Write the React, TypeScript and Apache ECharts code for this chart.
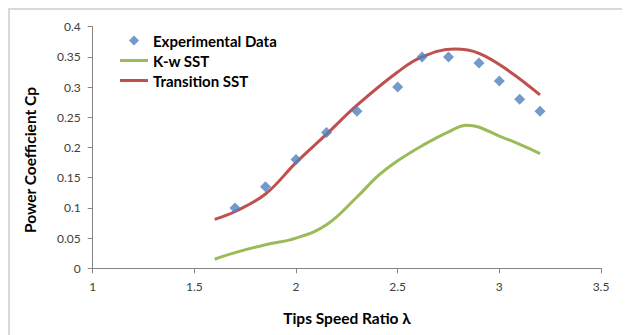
import React, { useEffect, useRef } from "react";
import * as echarts from "echarts";

const expX = [1.7, 1.85, 2.0, 2.15, 2.3, 2.5, 2.62, 2.75, 2.9, 3.0, 3.1, 3.2];
const expY = [0.1, 0.135, 0.18, 0.225, 0.26, 0.3, 0.35, 0.35, 0.34, 0.31, 0.28, 0.26];

const kwX = [1.6, 1.7, 1.85, 2.0, 2.15, 2.3, 2.4, 2.5, 2.62, 2.75, 2.84, 3.0, 3.2];
const kwY = [0.015, 0.026, 0.039, 0.05, 0.072, 0.118, 0.152, 0.178, 0.203, 0.226, 0.237, 0.219, 0.19];

const trX = [1.6, 1.7, 1.85, 2.0, 2.15, 2.3, 2.5, 2.62, 2.78, 2.9, 3.05, 3.2];
const trY = [0.081, 0.094, 0.123, 0.175, 0.222, 0.27, 0.325, 0.35, 0.363, 0.356, 0.326, 0.287];

const xTicks = { min: 1, max: 3.5, interval: 0.5 };
const yTicks = { min: 0, max: 0.4, interval: 0.05 };

const FONT = "Lato, 'Noto Sans', sans-serif";

export default function App() {
  const ref = useRef<HTMLDivElement>(null);
  useEffect(() => {
    if (!ref.current) return;
    const chart = echarts.init(ref.current, undefined, { renderer: "svg" });
    const zip = (xs: number[], ys: number[]) => xs.map((x, i) => [x, ys[i]]);
    chart.setOption({
      animation: false,
      textStyle: { fontFamily: FONT },
      grid: { left: 84.7, right: 29, top: 18.7, bottom: 66.7 },
      graphic: [
        {
          type: "rect",
          shape: { x: 1, y: 1, width: 2000, height: 2000 },
          style: { fill: "none", stroke: "#d9d9d9", lineWidth: 2 },
          silent: true,
        },
        {
          type: "text",
          x: 22,
          y: 152,
          rotation: Math.PI / 2,
          style: {
            text: "Power Coefficient Cp",
            fontFamily: FONT,
            fontSize: 15.5,
            fontWeight: "bold",
            fill: "#000",
            align: "center",
            verticalAlign: "middle",
          },
        },
        {
          type: "text",
          x: 339,
          y: 310,
          style: {
            text: "Tips Speed Ratio λ",
            fontFamily: FONT,
            fontSize: 15.5,
            fontWeight: "bold",
            fill: "#000",
            align: "center",
            verticalAlign: "middle",
          },
        },
      ],
      legend: {
        orient: "vertical",
        left: 107,
        top: 20,
        itemWidth: 28,
        itemHeight: 10,
        itemGap: 5,
        symbolKeepAspect: true,
        textStyle: { fontFamily: FONT, fontSize: 15, fontWeight: "bold", color: "#000" },
        data: [
          {
            name: "Experimental Data",
            icon: "path://M5,0 L10,5 L5,10 L0,5 Z",
            itemStyle: { color: "#4f81bd" },
          },
          { name: "K-w SST", icon: "path://M0,0 L28,0 L28,3 L0,3 Z", itemStyle: { color: "#9bbb59" } },
          { name: "Transition SST", icon: "path://M0,0 L28,0 L28,3 L0,3 Z", itemStyle: { color: "#c0504d" } },
        ],
      },
      xAxis: {
        type: "value",
        ...xTicks,
        axisLine: { show: true, lineStyle: { color: "#868686", width: 1 } },
        axisTick: { show: true, length: 5, lineStyle: { color: "#868686" } },
        axisLabel: { color: "#404040", fontSize: 12, margin: 12, fontFamily: FONT },
        splitLine: { show: false },
      },
      yAxis: {
        type: "value",
        ...yTicks,
        axisLine: { show: true, lineStyle: { color: "#868686", width: 1 } },
        axisTick: { show: true, length: 5, lineStyle: { color: "#868686" } },
        axisLabel: { color: "#404040", fontSize: 12, margin: 12, fontFamily: FONT },
        splitLine: { show: false },
      },
      series: [
        {
          name: "Experimental Data",
          type: "scatter",
          symbol: "diamond",
          symbolSize: 11,
          itemStyle: { color: "#4f81bd" },
          data: zip(expX, expY),
          z: 5,
        },
        {
          name: "K-w SST",
          type: "line",
          smooth: 0.4,
          symbol: "none",
          showSymbol: false,
          lineStyle: { color: "#9bbb59", width: 3 },
          itemStyle: { color: "#9bbb59" },
          data: zip(kwX, kwY),
        },
        {
          name: "Transition SST",
          type: "line",
          smooth: 0.4,
          symbol: "none",
          showSymbol: false,
          lineStyle: { color: "#c0504d", width: 3 },
          itemStyle: { color: "#c0504d" },
          data: zip(trX, trY),
        },
      ],
    });
    return () => chart.dispose();
  }, []);
  return <div ref={ref} style={{ width: 622, height: 327 }} />;
}
